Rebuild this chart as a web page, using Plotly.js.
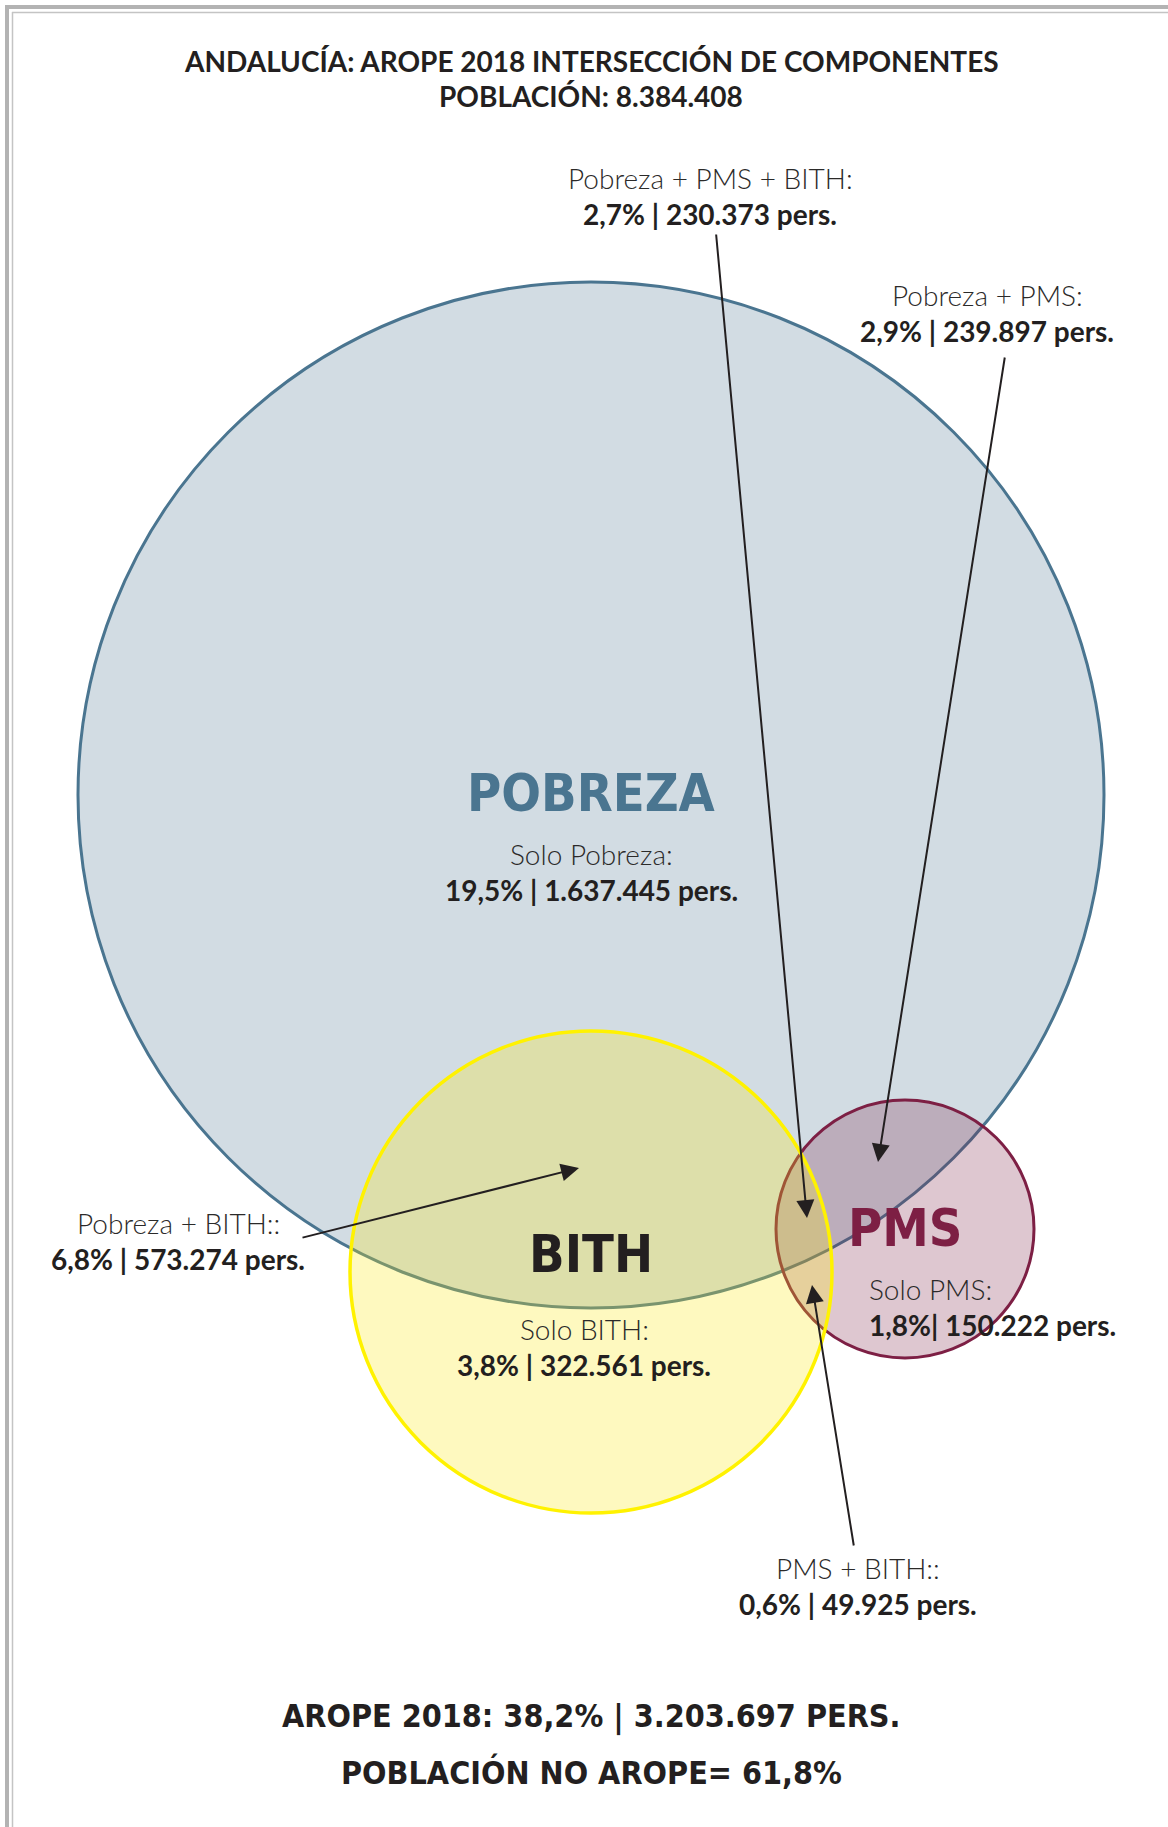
<!DOCTYPE html>
<html>
<head>
<meta charset="utf-8">
<script src="https://cdn.plot.ly/plotly-3.0.1.min.js"></script>
<style>html,body{margin:0;padding:0;background:#fff}#chart{width:1168px;height:1827px}</style>
</head>
<body>
<div id="chart"></div>
<script>
// ---- DATA ----
const chartTitle = ["ANDALUCÍA: AROPE 2018 INTERSECCIÓN DE COMPONENTES", "POBLACIÓN: 8.384.408"];
const sets = ["POBREZA", "BITH", "PMS"];
const regionLabels = ["Solo Pobreza:", "Solo BITH:", "Solo PMS:", "Pobreza + BITH::", "Pobreza + PMS:", "PMS + BITH::", "Pobreza + PMS + BITH:"];
const regionPct = ["19,5%", "3,8%", "1,8%", "6,8%", "2,9%", "0,6%", "2,7%"];
const regionSep = [" | ", " | ", "| ", " | ", " | ", " | ", " | "];
const regionPersons = ["1.637.445", "322.561", "150.222", "573.274", "239.897", "49.925", "230.373"];
const summary = ["AROPE 2018: 38,2% | 3.203.697 PERS.", "POBLACIÓN NO AROPE= 61,8%"];

// ---- LAYOUT / GEOMETRY (pixel-like data units) ----
const W = 1168, H = 1827;
const circCx = [591, 591, 905], circCy = [795, 1272, 1229], circR = [513, 241, 129];
const circLine = ["#4a7590", "#fff200", "#7d1f44"];
const circFill = ["rgba(74,117,144,0.25)", "rgba(250,234,20,0.27)", "rgba(125,31,68,0.25)"];
const circWidth = [3, 3.5, 3];
const drawOrder = [0, 2, 1];
const setLabelPos = [[591, 793], [591, 1254], [905, 1228]];
const setLabelSize = [52, 52, 52];
// label positions: [x, y(first line), xanchor]
const regionPos = [[591, 854, "center"], [584, 1329, "center"], [867, 1289, "left"], [178, 1223, "center"], [987, 295, "center"], [858, 1568, "center"], [710, 178, "center"]];
// arrows for overlap regions: [headX, headY, tailX, tailY]
const arrows = {3: [579, 1168, 301, 1238], 4: [878, 1162, 1005, 356], 5: [812, 1285, 854, 1547], 6: [807, 1218, 716, 233]};

const lightFont = {family: "Lato, 'Open Sans', sans-serif", size: 28, color: "#2b2a29", weight: 300};
const boldFont = {family: "Lato, 'Open Sans', sans-serif", size: 28, color: "#231f20", weight: 700};
const displayFam = "'Liberation Sans Narrow', 'DejaVu Sans Condensed', sans-serif";

const shapes = [];
// frame
shapes.push({type: "line", xref: "x", yref: "y", x0: 5, x1: W, y0: 7, y1: 7, line: {color: "#b3b3b3", width: 4}, layer: "below"});
shapes.push({type: "line", xref: "x", yref: "y", x0: 7, x1: 7, y0: 5, y1: H, line: {color: "#b3b3b3", width: 4}, layer: "below"});
shapes.push({type: "line", xref: "x", yref: "y", x0: 12, x1: W, y0: 12.5, y1: 12.5, line: {color: "#c4c4c4", width: 1.5}, layer: "below"});
shapes.push({type: "line", xref: "x", yref: "y", x0: 12.5, x1: 12.5, y0: 12, y1: H, line: {color: "#c4c4c4", width: 1.5}, layer: "below"});
drawOrder.forEach(i => {
  shapes.push({type: "circle", xref: "x", yref: "y",
    x0: circCx[i] - circR[i], x1: circCx[i] + circR[i],
    y0: circCy[i] - circR[i], y1: circCy[i] + circR[i],
    fillcolor: circFill[i], line: {color: circLine[i], width: circWidth[i]}});
});

const ann = [];
const titleFont = {family: "Lato, 'Open Sans', sans-serif", size: 28, color: "#231f20", weight: 700};
ann.push({x: 591, y: 61, text: "<b>" + chartTitle[0] + "</b>", font: titleFont});
ann.push({x: 591, y: 96, text: "<b>" + chartTitle[1] + "</b>", font: titleFont});
sets.forEach((s, i) => {
  ann.push({x: setLabelPos[i][0], y: setLabelPos[i][1], text: "<b>" + s + "</b>",
    font: {family: displayFam, size: setLabelSize[i], color: i === 1 ? "#231f20" : circLine[i], weight: 700}});
});
regionLabels.forEach((lab, i) => {
  const p = regionPos[i];
  ann.push({x: p[0], y: p[1], text: lab, xanchor: p[2], font: lightFont});
  ann.push({x: p[0], y: p[1] + 36, text: "<b>" + regionPct[i] + regionSep[i] + regionPersons[i] + " pers.</b>", xanchor: p[2], font: boldFont});
});
Object.keys(arrows).forEach(k => {
  const a = arrows[k];
  ann.push({x: a[0], y: a[1], ax: a[2], ay: a[3], axref: "x", ayref: "y", text: "", showarrow: true,
    arrowhead: 2, arrowsize: 1.8, arrowwidth: 2, arrowcolor: "#231f20", standoff: 0, startstandoff: 0});
});
const sumFont = {family: displayFam, size: 32, color: "#231f20", weight: 700};
ann.push({x: 591, y: 1716, text: "<b>" + summary[0] + "</b>", font: sumFont});
ann.push({x: 591, y: 1772, text: "<b>" + summary[1] + "</b>", font: sumFont});
ann.forEach(a => { a.xref = "x"; a.yref = "y"; if (a.showarrow === undefined) { a.showarrow = false; a.yanchor = "middle"; } });

const traces = [{type: "scatter", mode: "markers", x: circCx, y: circCy, marker: {opacity: 0}, hoverinfo: "skip", showlegend: false}];

Plotly.newPlot("chart", traces, {
  width: W, height: H, margin: {l: 0, r: 0, t: 0, b: 0},
  paper_bgcolor: "#ffffff", plot_bgcolor: "#ffffff",
  xaxis: {range: [0, W], visible: false, fixedrange: true},
  yaxis: {range: [H, 0], visible: false, fixedrange: true},
  shapes: shapes, annotations: ann, showlegend: false
}, {staticPlot: true});
</script>
</body>
</html>
